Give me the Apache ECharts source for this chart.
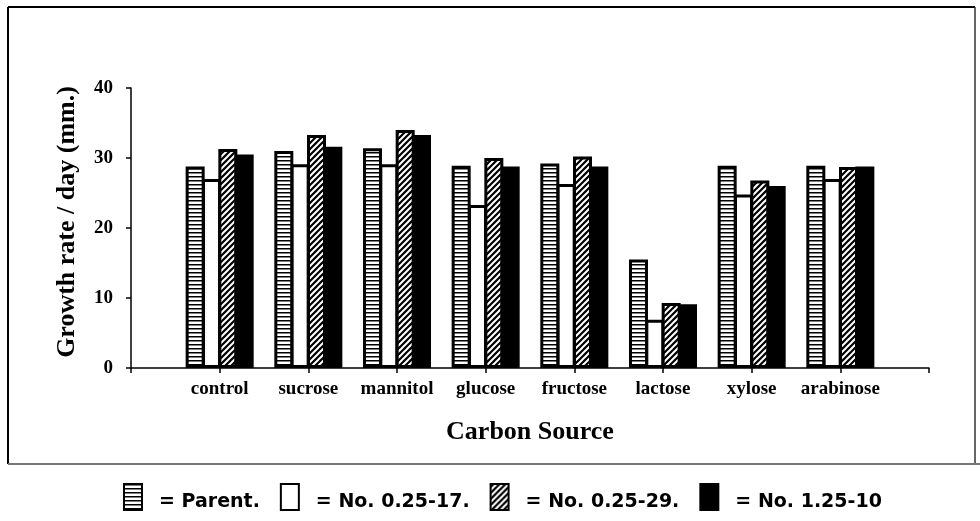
<!DOCTYPE html>
<html>
<head>
<meta charset="utf-8">
<script src="https://cdn.jsdelivr.net/npm/echarts@6/dist/echarts.min.js"></script>
<style>
  html, body { margin: 0; padding: 0; background: #fff; }
  #main { width: 980px; height: 521px; }
</style>
</head>
<body>
<div id="main"></div>
<script>
var myChart = echarts.init(document.getElementById('main'));

// data
var categories = ['control', 'sucrose', 'mannitol', 'glucose', 'fructose', 'lactose', 'xylose', 'arabinose'];
var seriesNames = ['Parent.', 'No. 0.25-17.', 'No. 0.25-29.', 'No. 1.25-10'];
var parent = [28.8, 31.0, 31.4, 28.9, 29.2, 15.5, 28.9, 28.9];
var no17 = [27.0, 29.1, 29.1, 23.3, 26.3, 6.9, 24.8, 27.0];
var no29 = [31.3, 33.3, 34.0, 30.0, 30.2, 9.3, 26.8, 28.7];
var no10 = [30.5, 31.6, 33.3, 28.8, 28.8, 9.1, 26.0, 28.8];
var yTicks = [0, 10, 20, 30, 40];

// fill patterns
function stripePattern() {
    var c = document.createElement('canvas');
    c.width = 4; c.height = 4;
    var ctx = c.getContext('2d');
    ctx.fillStyle = '#fff';
    ctx.fillRect(0, 0, 4, 4);
    ctx.fillStyle = '#000';
    ctx.fillRect(0, 0, 4, 1.5);
    return { image: c, repeat: 'repeat' };
}
function hatchPattern() {
    var s = 6;
    var c = document.createElement('canvas');
    c.width = s; c.height = s;
    var ctx = c.getContext('2d');
    ctx.fillStyle = '#000';
    ctx.fillRect(0, 0, s, s);
    ctx.strokeStyle = '#fff';
    ctx.lineWidth = 2;
    ctx.beginPath();
    ctx.moveTo(-1, 1); ctx.lineTo(1, -1);
    ctx.moveTo(0, s); ctx.lineTo(s, 0);
    ctx.moveTo(s - 1, s + 1); ctx.lineTo(s + 1, s - 1);
    ctx.stroke();
    return { image: c, repeat: 'repeat' };
}

var fills = [stripePattern(), '#fff', hatchPattern(), '#000'];
var values = [parent, no17, no29, no10];

// pad with empty slots so the ticks fall on the bar groups
var axisCats = [''].concat(categories, ['']);
function pad(arr) { return [null].concat(arr, [null]); }

var serif = 'Liberation Serif';

var option = {
    animation: false,
    backgroundColor: '#fff',
    grid: { left: 131, right: 51, top: 88, bottom: 153 },
    xAxis: {
        type: 'category',
        data: axisCats,
        boundaryGap: false,
        name: 'Carbon Source',
        nameLocation: 'middle',
        nameGap: 51,
        nameTextStyle: { fontFamily: serif, fontWeight: 'bold', fontSize: 26, color: '#000' },
        axisLine: { lineStyle: { color: '#000', width: 1.5 } },
        axisTick: { show: true, length: 5, alignWithLabel: true, interval: 0, lineStyle: { color: '#000', width: 1.5 } },
        axisLabel: { interval: 0, margin: 12, fontFamily: serif, fontWeight: 'bold', fontSize: 19, color: '#000' },
        splitLine: { show: false }
    },
    yAxis: {
        type: 'value',
        min: yTicks[0],
        max: yTicks[yTicks.length - 1],
        interval: 10,
        name: 'Growth rate / day (mm.)',
        nameLocation: 'middle',
        nameGap: 51,
        nameTextStyle: { fontFamily: serif, fontWeight: 'bold', fontSize: 26, color: '#000', padding: [0, 0, 0, 12] },
        axisLine: { show: true, lineStyle: { color: '#000', width: 1.5 } },
        axisTick: { show: true, length: 5, lineStyle: { color: '#000', width: 1.5 } },
        axisLabel: { margin: 18, fontFamily: serif, fontWeight: 'bold', fontSize: 19, color: '#000' },
        splitLine: { show: false }
    },
    legend: {
        left: 118,
        top: 478,
        itemWidth: 18,
        itemHeight: 26,
        itemGap: 20,
        icon: 'rect',
        formatter: function (name) { return '{t|= ' + name + '}'; },
        textStyle: {
            padding: [0, 0, 0, 12],
            rich: {
                t: { fontFamily: 'DejaVu Sans', fontWeight: 'bold', fontSize: 19, color: '#000', padding: [10, 0, 0, 0] }
            }
        },
        data: seriesNames.map(function (n, i) {
            return { name: n, itemStyle: { color: fills[i], borderColor: '#000', borderWidth: 2 } };
        })
    },
    series: seriesNames.map(function (n, i) {
        return {
            name: n,
            type: 'bar',
            data: pad(values[i]),
            barWidth: 19,
            barGap: '-14%',
            itemStyle: { color: fills[i], borderColor: '#000', borderWidth: 3 }
        };
    }),
    graphic: [
        { type: 'line', shape: { x1: 8, y1: 7, x2: 975, y2: 7 }, style: { stroke: '#000', lineWidth: 2 } },
        { type: 'line', shape: { x1: 8, y1: 7, x2: 8, y2: 464 }, style: { stroke: '#000', lineWidth: 2 } },
        { type: 'line', shape: { x1: 975, y1: 7, x2: 975, y2: 464 }, style: { stroke: '#333', lineWidth: 1.5 } },
        { type: 'line', shape: { x1: 8, y1: 464, x2: 980, y2: 464 }, style: { stroke: '#777', lineWidth: 2 } }
    ]
};

myChart.setOption(option);
</script>
</body>
</html>
